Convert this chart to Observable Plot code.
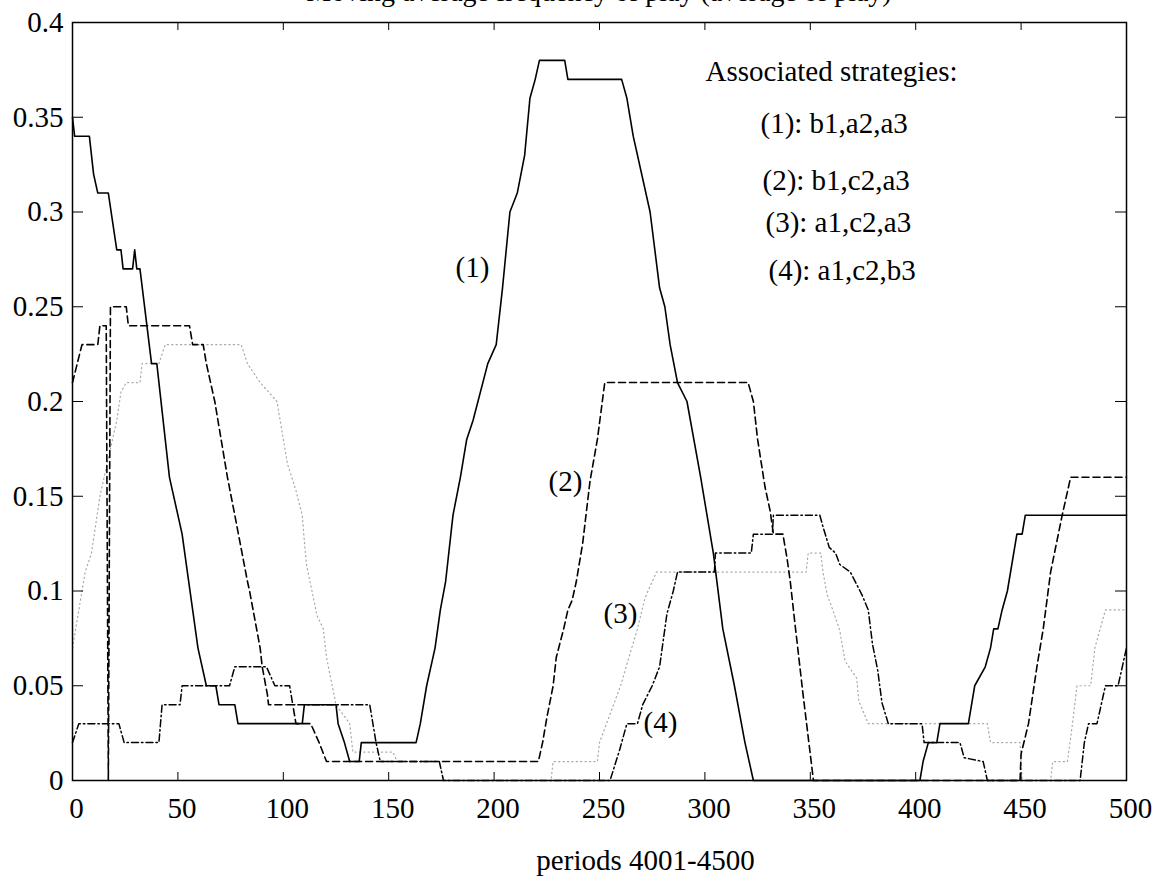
<!DOCTYPE html>
<html><head><meta charset="utf-8">
<script src="https://cdn.jsdelivr.net/npm/d3@7"></script>
<script src="https://cdn.jsdelivr.net/npm/@observablehq/plot@0.6"></script>
<style>
html,body{margin:0;padding:0;background:#fff;overflow:hidden}
#wrap{position:relative;width:1153px;height:885px}
#title{position:absolute;left:72px;width:1054px;top:-22px;text-align:center;font-family:"Liberation Serif",serif;font-size:28px;line-height:28px;white-space:nowrap;color:#000}
#chart svg{display:block}
</style></head><body>
<div id="wrap"><div id="title">Moving average frequency of play (average of play)</div><div id="chart"></div></div>
<script>
// ---- data (period, frequency) ----
const series1 = [[0,0.35],[1,0.34],[8,0.34],[10,0.32],[12,0.31],[17,0.31],[21,0.28],[23,0.28],[24,0.27],[28.5,0.27],[29.5,0.28],[30.5,0.27],[32,0.27],[37.5,0.22],[40,0.22],[46,0.16],[50,0.14],[52,0.13],[54.5,0.11],[57,0.09],[59.5,0.07],[63.5,0.05],[68,0.05],[69.5,0.04],[77,0.04],[78.5,0.03],[109,0.03],[110,0.04],[125,0.04],[126,0.03],[129,0.02],[131.5,0.01],[136,0.01],[137,0.02],[163,0.02],[165,0.03],[168,0.05],[172,0.07],[174.5,0.09],[177,0.105],[180.5,0.14],[184,0.16],[187,0.18],[190,0.19],[197,0.22],[201,0.23],[204,0.26],[207.5,0.30],[211,0.31],[214.5,0.33],[217,0.36],[219.5,0.37],[221.5,0.38],[233.5,0.38],[235,0.37],[260.5,0.37],[263,0.36],[266,0.34],[274,0.30],[278.5,0.26],[281,0.25],[283.5,0.23],[287,0.21],[291.5,0.20],[298,0.16],[304,0.12],[308.5,0.08],[314,0.05],[319,0.02],[323,0],[402,0],[403.5,0.01],[406,0.02],[410,0.02],[411.5,0.03],[425,0.03],[426.5,0.04],[428,0.05],[433,0.06],[435.5,0.07],[437,0.08],[439,0.08],[441,0.09],[443.5,0.10],[448,0.13],[450.5,0.13],[452,0.14],[500,0.14]];
const series2 = [[0,0.21],[4.5,0.23],[12,0.23],[13,0.24],[16,0.24],[17,0],[18,0.25],[25.5,0.25],[26.5,0.24],[55.5,0.24],[57,0.23],[62,0.23],[63.5,0.22],[67.5,0.20],[73.5,0.16],[77,0.14],[83,0.105],[84,0.10],[89,0.07],[90,0.06],[92.5,0.045],[93,0.04],[104.5,0.04],[106,0.03],[113,0.03],[117,0.02],[120.5,0.01],[221,0.01],[223,0.02],[225,0.033],[228,0.05],[229.5,0.065],[233,0.08],[235,0.09],[237,0.095],[239,0.105],[242,0.125],[245.5,0.158],[249,0.18],[252.5,0.21],[320.5,0.21],[323,0.20],[325,0.18],[328.5,0.155],[331,0.142],[332.5,0.13],[337,0.13],[339,0.117],[340.5,0.105],[343,0.08],[346.5,0.046],[351.5,0],[449.5,0],[450,0.014],[453.5,0.03],[457.5,0.06],[460.5,0.08],[464,0.11],[469.5,0.14],[473.5,0.16],[500,0.16]];
const series3 = [[0,0.07],[3,0.09],[6,0.11],[9,0.12],[13,0.15],[15,0.16],[18,0.175],[21,0.19],[23,0.205],[25.5,0.21],[32,0.21],[33,0.22],[41,0.22],[44,0.23],[80,0.23],[83,0.22],[89,0.21],[97,0.20],[102,0.167],[106,0.153],[109,0.14],[110,0.126],[111,0.114],[116,0.087],[119,0.08],[120.5,0.065],[125,0.04],[131.5,0.03],[133,0.015],[152,0.015],[154,0.01],[174,0.01],[176,0],[227,0],[228,0.01],[249,0.01],[250,0.02],[255,0.035],[260,0.05],[264.5,0.067],[268,0.08],[271.5,0.096],[273,0.10],[277,0.11],[348,0.11],[349,0.12],[355,0.12],[356,0.11],[358,0.098],[361,0.089],[364,0.079],[366.5,0.063],[372,0.054],[373,0.042],[377.5,0.03],[434,0.03],[435.5,0.02],[449.5,0.02],[450.5,0],[464,0],[465,0.01],[472,0.01],[474.5,0.031],[476.5,0.05],[483,0.05],[485,0.07],[487.5,0.08],[490,0.09],[500,0.09]];
const series4 = [[0,0.02],[3,0.03],[22,0.03],[24.5,0.02],[41,0.02],[42.5,0.04],[51,0.04],[52,0.05],[74.5,0.05],[77,0.06],[92,0.06],[96,0.05],[103,0.05],[104.5,0.04],[141,0.04],[142.5,0.03],[144,0.02],[146,0.01],[174,0.01],[176,0],[255,0],[259.5,0.016],[263,0.03],[268,0.03],[270.5,0.04],[275,0.05],[278.5,0.06],[282,0.088],[285,0.10],[287,0.11],[304.5,0.11],[305,0.12],[322,0.12],[323,0.13],[332,0.13],[332.5,0.14],[354.5,0.14],[356,0.134],[359,0.123],[362,0.12],[364,0.114],[369,0.11],[374.5,0.098],[377.5,0.09],[379.5,0.072],[382,0.058],[384,0.041],[387,0.03],[403,0.03],[404,0.02],[421,0.02],[423,0.012],[432,0.01],[434,0],[478,0],[480,0.02],[482,0.03],[486,0.03],[488,0.04],[490,0.05],[496,0.05],[498,0.06],[500,0.07]];

const xTicks = [0,50,100,150,200,250,300,350,400,450,500];
const yTicks = [0,0.05,0.1,0.15,0.2,0.25,0.3,0.35,0.4];
const yTickLabels = ["0","0.05","0.1","0.15","0.2","0.25","0.3","0.35","0.4"];
const xLabel = "periods 4001-4500";
const curveLabels = ["(1)","(2)","(3)","(4)"];
const legendLines = ["Associated strategies:","(1): b1,a2,a3","(2): b1,c2,a3","(3): a1,c2,a3","(4): a1,c2,b3"];

// ---- layout ----
const W = 1153, H = 885, mL = 72, mR = 27, mT = 22, mB = 105;
const fw = W - mL - mR, fh = H - mT - mB;
const FS = 29;
const curvePos = [[400,245],[493,459],[548,591],[588,700]];
const legendPos = [[633,49],[688,101],[690,158],[693,200],[696,248]];

const X = d => d[0], Y = d => d[1];
const chart = Plot.plot({
  width: W, height: H,
  marginLeft: mL, marginRight: mR, marginTop: mT, marginBottom: mB,
  style: {fontFamily: "'Liberation Serif', serif", fontSize: FS + "px", color: "#000", background: "#fff"},
  x: {domain: [0, 500]},
  y: {domain: [0, 0.4]},
  marks: [
    Plot.line(series3, {x: X, y: Y, stroke: "#a8a8a8", strokeWidth: 1.2, strokeDasharray: "1.2,3.2"}),
    Plot.line(series4, {x: X, y: Y, stroke: "#000", strokeWidth: 1.5, strokeDasharray: "7,3,1.5,3"}),
    Plot.line(series2, {x: X, y: Y, stroke: "#000", strokeWidth: 1.6, strokeDasharray: "7,4"}),
    Plot.line(series1, {x: X, y: Y, stroke: "#000", strokeWidth: 1.6}),
    Plot.frame({stroke: "#000", strokeWidth: 1.5}),
    Plot.tickX(xTicks, {x: d => d, insetTop: fh - 8, stroke: "#000"}),
    Plot.tickX(xTicks, {x: d => d, insetBottom: fh - 8, stroke: "#000"}),
    Plot.tickY(yTicks, {y: d => d, insetRight: fw - 11, stroke: "#000"}),
    Plot.tickY(yTicks, {y: d => d, insetLeft: fw - 11, stroke: "#000"}),
    Plot.axisX(xTicks, {anchor: "bottom", tickSize: 0, tickPadding: 17, dx: 4, fontSize: FS, label: null, tickFormat: d => String(d)}),
    Plot.axisY(yTicks, {anchor: "left", tickSize: 0, tickPadding: 9, fontSize: FS, label: null, tickFormat: d => yTickLabels[yTicks.indexOf(d)]}),
    Plot.text([xLabel], {frameAnchor: "bottom", dx: 46, dy: 80, fontSize: FS, lineAnchor: "middle"}),
    ...curveLabels.map((t, i) => Plot.text([t], {frameAnchor: "top-left", dx: curvePos[i][0], dy: curvePos[i][1], fontSize: FS, lineAnchor: "middle", textAnchor: "middle"})),
    ...legendLines.map((t, i) => Plot.text([t], {frameAnchor: "top-left", dx: legendPos[i][0], dy: legendPos[i][1], fontSize: FS, lineAnchor: "middle", textAnchor: "start"}))
  ]
});
document.getElementById("chart").appendChild(chart);
</script>
</body></html>
